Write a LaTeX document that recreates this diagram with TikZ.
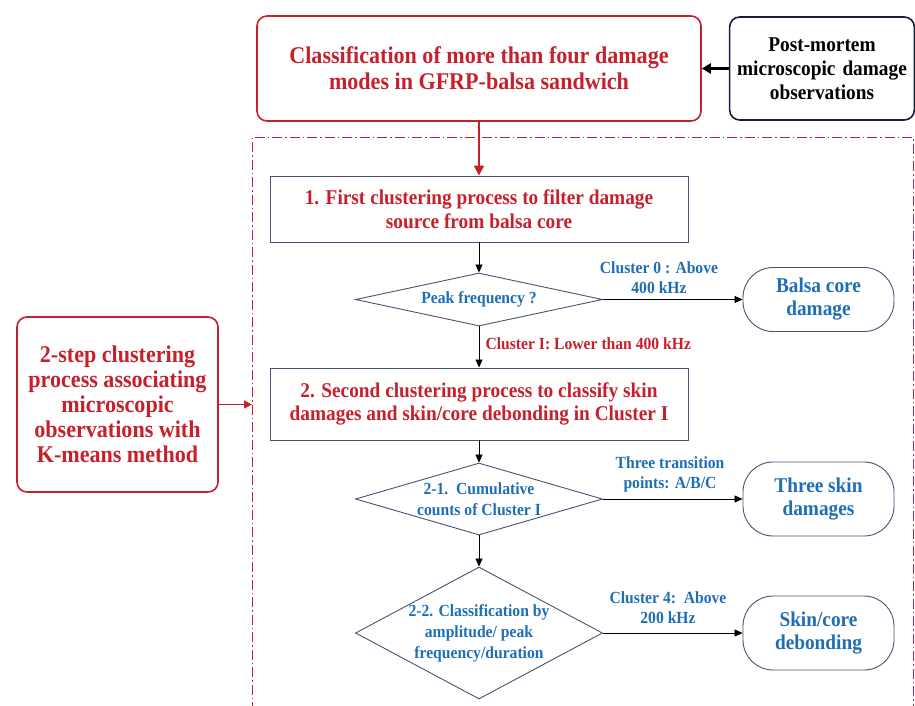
\documentclass[tikz,border=0pt]{standalone}
\usepackage{fontspec}
\setmainfont{Liberation Serif}[FakeStretch=0.92]
\usetikzlibrary{shapes.geometric,arrows.meta}
\definecolor{dred}{RGB}{198,32,44}
\definecolor{dblue}{RGB}{30,110,182}
\definecolor{navy}{RGB}{22,30,60}
\definecolor{bord}{RGB}{72,82,115}
\begin{document}
\begin{tikzpicture}[x=1pt,y=-1pt,
  redbox/.style={draw=dred,line width=1.6pt,rounded corners=10pt,text=dred,align=center,font=\bfseries\fontsize{24}{26}\selectfont},
  navybox/.style={draw=navy,line width=1.6pt,rounded corners=10pt,text=black,align=center,font=\bfseries\fontsize{21}{24}\selectfont},
  stepbox/.style={draw=bord,line width=0.9pt,text=dred,align=center,font=\bfseries\fontsize{21}{23.5}\selectfont},
  dia/.style={diamond,draw=bord,line width=0.9pt,inner sep=0pt},
  dtext/.style={text=dblue,align=center,font=\bfseries\fontsize{17}{21}\selectfont},
  term/.style={draw=bord,line width=0.9pt,rounded corners=30pt,text=dblue,align=center,font=\bfseries\fontsize{21}{23}\selectfont},
  lab/.style={text=dblue,align=center,font=\bfseries\fontsize{17}{20}\selectfont},
  arr/.style={-{Triangle[length=8pt,width=7pt]},line width=0.8pt,black},
  region/.style={draw=dred,line width=0.9pt,dash pattern=on 10pt off 3pt on 1.5pt off 3pt}
]
\useasboundingbox (0,0) rectangle (915,705);
% dash-dot region
\coordinate (rtl) at (252,137);
\coordinate (rtr) at (913,137);
\coordinate (rbl) at (252,712);
\coordinate (rbr) at (913,712);
\draw[region] (rbl) -- (rtl) -- (rtr) -- (rbr);

% top boxes
\node[redbox,minimum width=444pt,minimum height=105pt] (top) at (479,68.5) {Classification of more than four damage\\modes in GFRP-balsa sandwich};
\node[navybox,minimum width=182pt,minimum height=103pt,text width=178pt] (pm) at (822,68.5) {Post-mortem\\microscopic damage\\observations};
\draw[-{Triangle[length=9pt,width=10pt]},line width=2.4pt,black] (pm.west) -- (top.east);

% step 1
\node[stepbox,minimum width=418pt,minimum height=66pt] (s1) at (479,209) {1. First clustering process to filter damage\\source from balsa core};
\draw[-{Triangle[length=10pt,width=10pt]},line width=2.2pt,dred] (top.south -| s1.north) -- (s1.north);

% diamond 1
\node[dia,minimum width=247pt,minimum height=53pt] (d1) at (479,299.5) {};
\node[dtext] (d1t) at (d1.center) {Peak frequency ?};
\draw[arr] (s1.south) -- (d1.north);
\node[term,minimum width=151pt,minimum height=64pt] (t1) at (818.5,299.5) {Balsa core\\damage};
\draw[arr] (d1.east) -- (t1.west);
\node[lab] (l1) at (659,278) {Cluster 0 : Above\\400 kHz};

% step 2
\node[stepbox,minimum width=418pt,minimum height=72pt] (s2) at (479,404) {2. Second clustering process to classify skin\\damages and skin/core debonding in Cluster I};
\draw[arr] (d1.south) -- (s2.north);
\node[lab,text=dred,anchor=west] (l2) at (482,344) {Cluster I: Lower than 400 kHz};

% left box
\node[redbox,minimum width=201pt,minimum height=175pt,font=\bfseries\fontsize{24}{25}\selectfont] (lb) at (117.5,404.5) {2-step clustering\\process associating\\microscopic\\observations with\\K-means method};
\draw[-{Triangle[length=8pt,width=8pt]},line width=1.4pt,dred] (lb.east) -- (lb.east -| rtl);

% diamond 2
\node[dia,minimum width=247pt,minimum height=72pt] (d2) at (479,499) {};
\node[dtext] (d2t) at (d2.center) {2-1.\ \ Cumulative\\counts of Cluster I};
\draw[arr] (s2.south) -- (d2.north);
\node[term,minimum width=151pt,minimum height=74pt] (t2) at (818.5,499) {Three skin\\damages};
\draw[arr] (d2.east) -- (t2.west);
\node[lab] (l3) at (670,474) {Three transition\\points: A/B/C};

% diamond 3
\node[dia,minimum width=247pt,minimum height=132pt] (d3) at (479,633) {};
\node[dtext] (d3t) at (d3.center) {2-2. Classification by\\amplitude/ peak\\frequency/duration};
\draw[arr] (d2.south) -- (d3.north);
\node[term,minimum width=151pt,minimum height=74pt] (t3) at (818.5,633) {Skin/core\\debonding};
\draw[arr] (d3.east) -- (t3.west);
\node[lab] (l4) at (668,608) {Cluster 4:\ \ Above\\200 kHz};
\end{tikzpicture}
\end{document}
